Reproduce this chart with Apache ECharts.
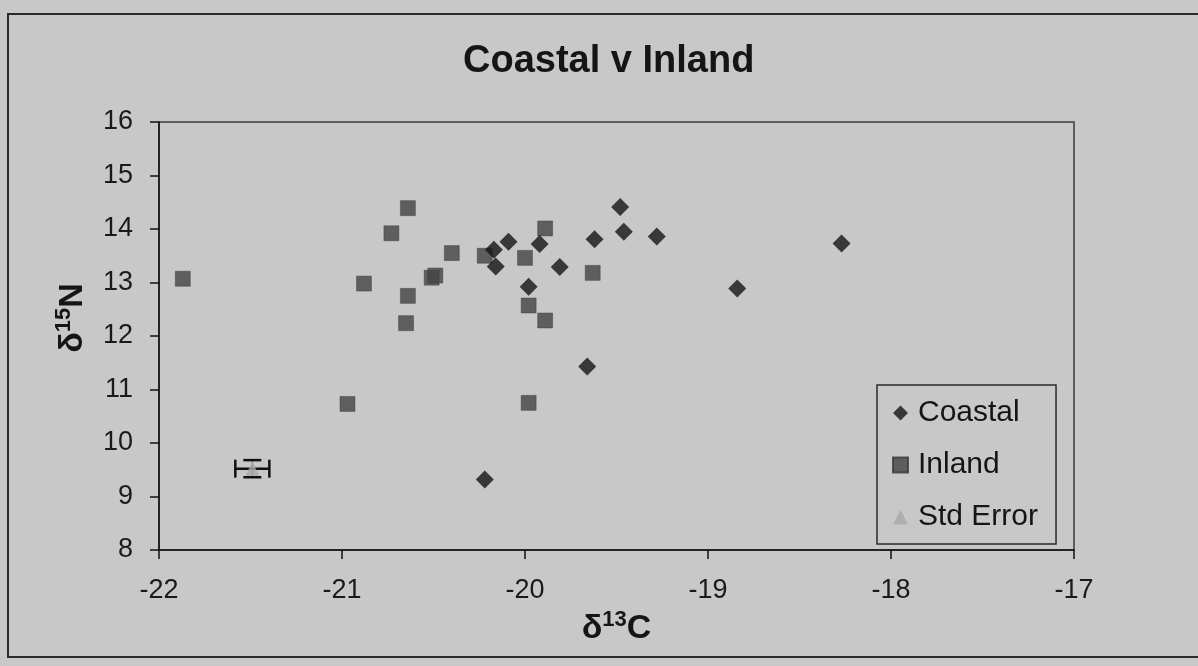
<!DOCTYPE html>
<html>
<head>
<meta charset="utf-8">
<script src="https://cdn.jsdelivr.net/npm/echarts@6/dist/echarts.min.js"></script>
<style>
html,body{margin:0;padding:0;background:#c8c8c8;}
#chart{width:1198px;height:666px;}
</style>
</head>
<body>
<div id="chart"></div>
<script>
// δ13C, δ15N values
const coastal = [
  [-19.48,14.41],[-19.46,13.95],[-19.28,13.86],[-19.62,13.81],[-19.92,13.72],
  [-20.09,13.76],[-20.17,13.61],[-20.16,13.30],[-19.81,13.29],[-19.98,12.92],
  [-19.66,11.43],[-20.22,9.32],[-18.84,12.89],[-18.27,13.73]
];
const inland = [
  [-21.87,13.07],[-20.64,14.39],[-20.73,13.92],[-20.88,12.98],[-20.64,12.75],
  [-20.65,12.24],[-20.51,13.09],[-20.49,13.13],[-20.40,13.55],[-20.22,13.50],
  [-20.00,13.46],[-19.89,14.01],[-19.63,13.18],[-19.98,12.57],[-19.89,12.29],
  [-20.97,10.73],[-19.98,10.75]
];
// [x, y, x error, y error]
const stdError = [[-21.49, 9.52, 0.093, 0.16]];
const seriesNames = ['Coastal','Inland','Std Error'];
const titleText = 'Coastal v Inland';

const FONT = '"Liberation Sans", Arial, sans-serif';
const chart = echarts.init(document.getElementById('chart'));

const axisNameRich = {
  d: {fontSize: 34, fontWeight: 'bold', fontFamily: FONT, color: '#151515', lineHeight: 40},
  s: {fontSize: 22, fontWeight: 'bold', fontFamily: FONT, color: '#151515', verticalAlign: 'top'}
};

chart.setOption({
  backgroundColor: '#c8c8c8',
  animation: false,
  title: {
    text: titleText,
    left: 458, top: 38,
    textStyle: {fontFamily: FONT, fontSize: 38, fontWeight: 'bold', color: '#151515'}
  },
  grid: {
    left: 159, right: 124, top: 122, bottom: 116,
    show: true, borderColor: '#3a3a3a', borderWidth: 1.5, backgroundColor: 'transparent'
  },
  legend: {
    data: seriesNames,
    orient: 'vertical',
    left: 877, top: 385,
    padding: [13, 18, 12, 15],
    itemGap: 22,
    itemWidth: 15, itemHeight: 15,
    borderColor: '#2a2a2a', borderWidth: 1.5,
    backgroundColor: '#c8c8c8',
    textStyle: {fontFamily: FONT, fontSize: 30, color: '#151515', lineHeight: 30, padding: [0, 0, 0, 5]}
  },
  xAxis: {
    type: 'value', min: -22, max: -17, interval: 1,
    name: '{d|δ}{s|13}{d|C}',
    nameLocation: 'middle', nameGap: 58,
    nameTextStyle: {rich: axisNameRich},
    axisLine: {show: true, onZero: false, lineStyle: {color: '#111', width: 1.5}},
    axisTick: {show: true, length: 9, lineStyle: {color: '#111', width: 1.5}},
    axisLabel: {fontFamily: FONT, fontSize: 27, color: '#1a1a1a', margin: 27},
    splitLine: {show: false}
  },
  yAxis: {
    type: 'value', min: 8, max: 16, interval: 1,
    name: '{d|δ}{s|15}{d|N}',
    nameLocation: 'middle', nameGap: 66, nameRotate: 90,
    nameTextStyle: {rich: axisNameRich, padding: [0, 0, 0, 36]},
    axisLine: {show: true, onZero: false, lineStyle: {color: '#111', width: 1.5}},
    axisTick: {show: true, length: 9, lineStyle: {color: '#111', width: 1.5}},
    axisLabel: {fontFamily: FONT, fontSize: 27, color: '#1a1a1a', margin: 26},
    splitLine: {show: false}
  },
  graphic: [{
    type: 'rect', silent: true,
    shape: {x: 8, y: 14, width: 1220, height: 643},
    style: {fill: 'none', stroke: '#2a2a2a', lineWidth: 2}
  }],
  series: [
    {
      name: 'errbar', type: 'custom', data: stdError, z: 2,
      renderItem: function (params, api) {
        const x = api.value(0), y = api.value(1), ex = api.value(2), ey = api.value(3);
        const l = api.coord([x - ex, y]), r = api.coord([x + ex, y]);
        const t = api.coord([x, y + ey]), b = api.coord([x, y - ey]);
        const cap = 9, st = {stroke: '#111', lineWidth: 2.5};
        return {type: 'group', children: [
          {type: 'line', shape: {x1: l[0], y1: l[1], x2: r[0], y2: r[1]}, style: st},
          {type: 'line', shape: {x1: l[0], y1: l[1] - cap, x2: l[0], y2: l[1] + cap}, style: st},
          {type: 'line', shape: {x1: r[0], y1: r[1] - cap, x2: r[0], y2: r[1] + cap}, style: st},
          {type: 'line', shape: {x1: t[0], y1: t[1], x2: b[0], y2: b[1]}, style: {stroke: '#555', lineWidth: 1}},
          {type: 'line', shape: {x1: t[0] - cap, y1: t[1], x2: t[0] + cap, y2: t[1]}, style: st},
          {type: 'line', shape: {x1: b[0] - cap, y1: b[1], x2: b[0] + cap, y2: b[1]}, style: st}
        ]};
      }
    },
    {
      name: 'Inland', type: 'scatter', data: inland, z: 3,
      symbol: 'rect', symbolSize: 15,
      itemStyle: {color: '#444444', borderColor: '#383838', borderWidth: 0.5}
    },
    {
      name: 'Coastal', type: 'scatter', data: coastal, z: 4,
      symbol: 'diamond', symbolSize: 18,
      itemStyle: {color: '#141414'}
    },
    {
      name: 'Std Error', type: 'scatter', data: stdError.map(d => [d[0], d[1]]), z: 5,
      symbol: 'triangle', symbolSize: 14,
      itemStyle: {color: '#a9a9a9'}
    }
  ]
});
</script>
</body>
</html>
